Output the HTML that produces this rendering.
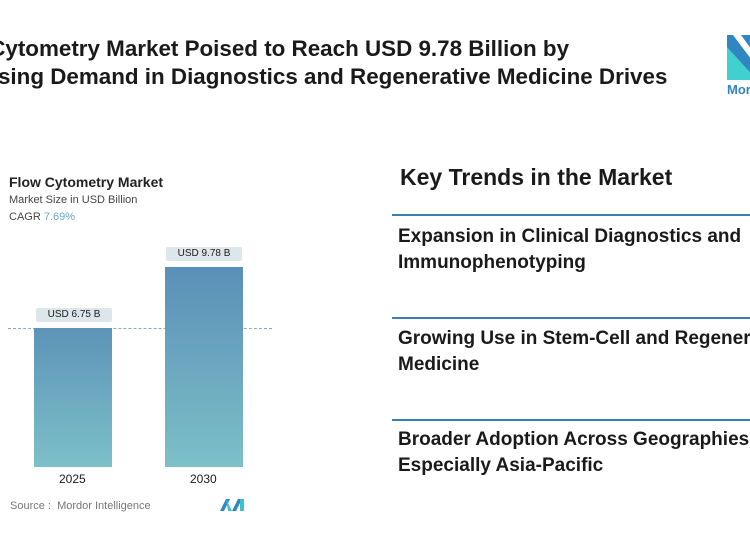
<!DOCTYPE html>
<html><head><style>
body{margin:0;width:750px;height:536px;overflow:hidden;background:#fff;font-family:"Liberation Sans",sans-serif;position:relative;color:#1a1a1a}
.a{position:absolute;white-space:nowrap}
.t{font-weight:bold;font-size:22.4px;left:-68px}
.k{font-weight:bold;font-size:19px;left:398px;line-height:26px}
.hr{position:absolute;left:392px;width:358px;height:2px;background:#3c7fb0}
.bar{position:absolute;background:linear-gradient(#5d93b8,#7cc0c8)}
.lbl{position:absolute;background:#dde6ea;font-size:10px;text-align:center;height:14px;line-height:14px;border-radius:2px}
</style></head><body>
<div class="a t" style="top:36px">Flow Cytometry Market Poised to Reach USD 9.78 Billion by</div>
<div class="a t" style="top:64px">Increasing Demand in Diagnostics and Regenerative Medicine Drives</div>
<svg class="a" style="left:727px;top:35px" width="23" height="45"><polygon points="0,0 30,0 30,45 0,45" fill="#2f86c0"/><polygon points="0,12 30,45 0,45" fill="#40d0d0"/><polygon points="6,0 14,0 30,22 30,32" fill="#fff"/></svg>
<div class="a" style="left:727px;top:82px;color:#2f86c0;font-weight:bold;font-size:13px">Mordor</div>

<div class="a" style="left:9px;top:174px;font-size:14px;font-weight:bold;color:#222">Flow Cytometry Market</div>
<div class="a" style="left:9px;top:194px;font-size:11px;color:#444">Market Size in USD Billion</div>
<div class="a" style="left:9px;top:211px;font-size:11px;color:#444">CAGR <span style="color:#6fa5c8">7.69%</span></div>
<div class="a" style="left:8px;top:328px;width:264px;border-top:1px dashed #8aa9bb"></div>
<div class="bar" style="left:34px;top:328px;width:78px;height:139px"></div>
<div class="bar" style="left:165px;top:267px;width:78px;height:200px;background:linear-gradient(#5a8fb7,#7cc0c8)"></div>
<div class="lbl" style="left:36px;top:308px;width:76px">USD 6.75 B</div>
<div class="lbl" style="left:166px;top:247px;width:76px">USD 9.78 B</div>
<div class="a" style="left:59px;top:472px;font-size:12px">2025</div>
<div class="a" style="left:190px;top:472px;font-size:12px">2030</div>
<div class="a" style="left:10px;top:500px;font-size:11px;color:#777">Source :&nbsp; Mordor Intelligence</div>
<svg class="a" style="left:220px;top:499px" width="24" height="12"><polygon points="0,12 6,0 10,0 4,12" fill="#2f86c0"/><polygon points="6,0 12,12 8,12" fill="#40c0c8"/><polygon points="12,12 18,0 22,0 16,12" fill="#2f86c0"/><rect x="20" y="0" width="4" height="12" fill="#40c0c8"/></svg>

<div class="a" style="left:400px;top:164px;font-size:23px;font-weight:bold">Key Trends in the Market</div>
<div class="hr" style="top:214px"></div>
<div class="a k" style="top:224px">Expansion in Clinical Diagnostics and<br>Immunophenotyping</div>
<div class="hr" style="top:317px"></div>
<div class="a k" style="top:326px">Growing Use in Stem-Cell and Regenerative<br>Medicine</div>
<div class="hr" style="top:419px"></div>
<div class="a k" style="top:427px">Broader Adoption Across Geographies,<br>Especially Asia-Pacific</div>
</body></html>
